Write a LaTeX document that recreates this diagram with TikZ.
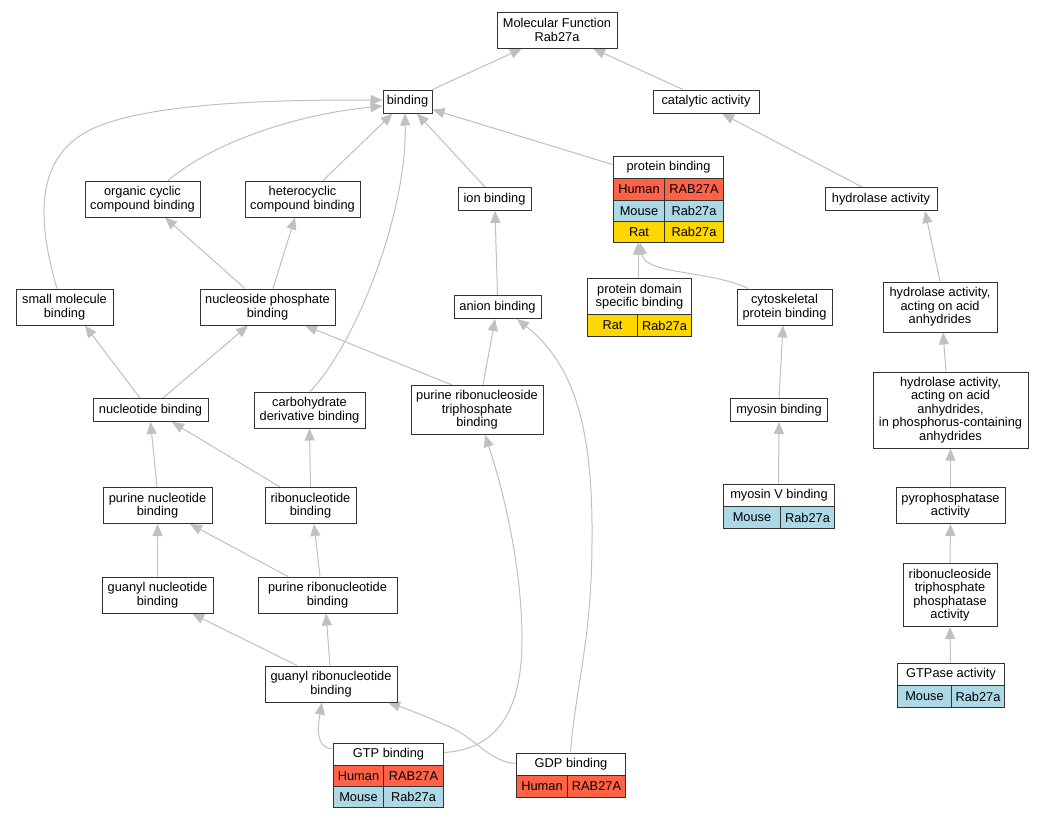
\documentclass[tikz,border=0pt]{standalone}
\usepackage{fontspec}
\setmainfont{Liberation Sans}
\usetikzlibrary{arrows.meta,backgrounds}
\definecolor{edgegray}{RGB}{192,192,192}
\definecolor{human}{RGB}{255,99,71}
\definecolor{mouse}{RGB}{173,216,230}
\definecolor{rat}{RGB}{255,215,0}
\newcommand\gofont{\fontsize{12.8}{13.4}\selectfont}
\tikzset{
  box/.style={draw=black!80, line width=1pt, fill=white, align=center, inner sep=0pt, font=\gofont},
  tbl/.style={draw=black!80, line width=1pt, fill=white, inner sep=0pt},
  cell/.style={draw=black!80, line width=1pt, fill=white, inner sep=0pt, anchor=north west, align=center, font=\gofont},
  edge/.style={draw=edgegray, line width=1pt, -{Triangle[length=12pt,width=10pt]}},
}
\begin{document}
\begin{tikzpicture}[x=1pt,y=-1pt]
\useasboundingbox (0,0) rectangle (1044,819);
% plain nodes
\node[box, minimum width=120pt, minimum height=36pt] (mf) at (557,30) {Molecular Function\\Rab27a};
\node[box, minimum width=49pt, minimum height=23pt] (bind) at (407.5,101.5) {binding};
\node[box, minimum width=106pt, minimum height=23pt] (cat) at (706,101.5) {catalytic activity};
\node[box, minimum width=115pt, minimum height=36pt] (oc) at (142.5,199) {organic cyclic\\compound binding};
\node[box, minimum width=115pt, minimum height=36pt] (het) at (302.5,199) {heterocyclic\\compound binding};
\node[box, minimum width=73pt, minimum height=23pt] (ion) at (494.5,199) {ion binding};
\node[box, minimum width=112pt, minimum height=23pt] (hyd) at (881,199) {hydrolase activity};
\node[box, minimum width=97pt, minimum height=36pt] (sm) at (64.5,307) {small molecule\\binding};
\node[box, minimum width=135pt, minimum height=36pt] (nps) at (267.5,307) {nucleoside phosphate\\binding};
\node[box, minimum width=87pt, minimum height=23pt] (anion) at (497.5,307) {anion binding};
\node[box, minimum width=95pt, minimum height=36pt] (cyto) at (784.5,307) {cytoskeletal\\protein binding};
\node[box, minimum width=114pt, minimum height=50pt] (haa) at (940,307) {hydrolase activity,\\acting on acid\\anhydrides};
\node[box, minimum width=115pt, minimum height=23pt] (nb) at (150.5,410) {nucleotide binding};
\node[box, minimum width=111pt, minimum height=36pt] (cdb) at (309.5,410) {carbohydrate\\derivative binding};
\node[box, minimum width=132pt, minimum height=49pt] (prtb) at (477,410) {purine ribonucleoside\\triphosphate\\binding};
\node[box, minimum width=97pt, minimum height=23pt] (myb) at (779,410) {myosin binding};
\node[box, minimum width=155pt, minimum height=76pt] (hpc) at (950.5,410) {hydrolase activity,\\acting on acid\\anhydrides,\\in phosphorus-containing\\anhydrides};
\node[box, minimum width=109pt, minimum height=36pt] (pnb) at (157.5,505.5) {purine nucleotide\\binding};
\node[box, minimum width=91pt, minimum height=36pt] (rnb) at (310.5,505.5) {ribonucleotide\\binding};
\node[box, minimum width=109pt, minimum height=36pt] (pyro) at (950.5,505.5) {pyrophosphatase\\activity};
\node[box, minimum width=111pt, minimum height=36pt] (gnb) at (157.5,595) {guanyl nucleotide\\binding};
\node[box, minimum width=139pt, minimum height=36pt] (prb) at (327.5,595) {purine ribonucleotide\\binding};
\node[box, minimum width=94pt, minimum height=63pt] (rtpa) at (950,595) {ribonucleoside\\triphosphate\\phosphatase\\activity};
\node[box, minimum width=132pt, minimum height=36pt] (grb) at (331,684) {guanyl ribonucleotide\\binding};
% protein binding table
\node[tbl, minimum width=110pt, minimum height=86pt] (pb) at (668,199) {};
\node[cell, minimum width=110pt, minimum height=22pt] (pbT) at (613,156) {protein binding};
\node[cell, fill=human, minimum width=51pt, minimum height=22pt] (pbH1) at (613,178) {Human};
\node[cell, fill=human, minimum width=59pt, minimum height=22pt] (pbH2) at (664,178) {RAB27A};
\node[cell, fill=mouse, minimum width=51pt, minimum height=21pt] (pbM1) at (613,200) {Mouse};
\node[cell, fill=mouse, minimum width=59pt, minimum height=21pt] (pbM2) at (664,200) {Rab27a};
\node[cell, fill=rat, minimum width=51pt, minimum height=21pt] (pbR1) at (613,221) {Rat};
\node[cell, fill=rat, minimum width=59pt, minimum height=21pt] (pbR2) at (664,221) {Rab27a};
% protein domain specific binding table
\node[tbl, minimum width=104pt, minimum height=58pt] (pds) at (639,307) {};
\node[cell, minimum width=104pt, minimum height=36pt] (pdsT) at (587,278) {protein domain\\specific binding};
\node[cell, fill=rat, minimum width=50pt, minimum height=22pt] (pdsR1) at (587,314) {Rat};
\node[cell, fill=rat, minimum width=54pt, minimum height=22pt] (pdsR2) at (637,314) {Rab27a};
% myosin V binding table
\node[tbl, minimum width=111pt, minimum height=44pt] (myv) at (778.5,506) {};
\node[cell, minimum width=111pt, minimum height=22pt] (myvT) at (723,484) {myosin V binding};
\node[cell, fill=mouse, minimum width=57pt, minimum height=22pt] (myvM1) at (723,506) {Mouse};
\node[cell, fill=mouse, minimum width=54pt, minimum height=22pt] (myvM2) at (780,506) {Rab27a};
% GTPase activity table
\node[tbl, minimum width=107pt, minimum height=44pt] (gtpase) at (950.5,685) {};
\node[cell, minimum width=107pt, minimum height=22pt] (gtpaseT) at (897,663) {GTPase activity};
\node[cell, fill=mouse, minimum width=54pt, minimum height=22pt] (gtpaseM1) at (897,685) {Mouse};
\node[cell, fill=mouse, minimum width=53pt, minimum height=22pt] (gtpaseM2) at (951,685) {Rab27a};
% GTP binding table
\node[tbl, minimum width=110pt, minimum height=64pt] (gtp) at (388,775) {};
\node[cell, minimum width=110pt, minimum height=22pt] (gtpT) at (333,743) {GTP binding};
\node[cell, fill=human, minimum width=50pt, minimum height=21pt] (gtpH1) at (333,765) {Human};
\node[cell, fill=human, minimum width=60pt, minimum height=21pt] (gtpH2) at (383,765) {RAB27A};
\node[cell, fill=mouse, minimum width=50pt, minimum height=21pt] (gtpM1) at (333,786) {Mouse};
\node[cell, fill=mouse, minimum width=60pt, minimum height=21pt] (gtpM2) at (383,786) {Rab27a};
% GDP binding table
\node[tbl, minimum width=109pt, minimum height=44pt] (gdp) at (570.5,775) {};
\node[cell, minimum width=109pt, minimum height=22pt] (gdpT) at (516,753) {GDP binding};
\node[cell, fill=human, minimum width=51pt, minimum height=22pt] (gdpH1) at (516,775) {Human};
\node[cell, fill=human, minimum width=58pt, minimum height=22pt] (gdpH2) at (567,775) {RAB27A};

\begin{pgfonlayer}{background}
\fill[white] (0,0) rectangle (1044,819);
\draw[edge] (bind.north east) -- ([xshift=-35pt]mf.south);
\draw[edge] ([xshift=-23pt]cat.north) -- ([xshift=36pt]mf.south);
\draw[edge] ([xshift=25.5pt]oc.north) .. controls (210,145) and (290,115) .. ([yshift=-4.5pt]bind.west);
\draw[edge] ([xshift=20.5pt]het.north) -- ([xshift=-15pt]bind.south);
\draw[edge] ([xshift=-7.5pt]sm.north) .. controls (40,230) and (30,160) .. (90,130) .. controls (150,100) and (300,100) .. ([yshift=1.5pt]bind.west);
\draw[edge] ([xshift=-22.5pt]nps.north) -- ([xshift=22.5pt]oc.south);
\draw[edge] ([xshift=5.5pt]nps.north) -- ([xshift=-7.5pt]het.south);
\draw[edge] ([xshift=0.5pt]cdb.north) .. controls (355,345) and (407,215) .. ([xshift=-2.5pt]bind.south);
\draw[edge] ([xshift=-9.5pt]ion.north) -- ([xshift=9.5pt]bind.south);
\draw[edge] ([yshift=-9pt]pb.north west) -- ([yshift=4pt]bind.south east);
\draw[edge] ([xshift=-19pt]hyd.north) -- ([xshift=16pt]cat.south);
\draw[edge] (anion.north) -- ([xshift=0.5pt]ion.south);
\draw[edge] ([xshift=-1pt]pds.north) -- ([xshift=-30pt]pb.south);
\draw[edge] ([xshift=-36.5pt]cyto.north) .. controls (710,270) and (645,275) .. ([xshift=-28pt]pb.south);
\draw[edge] (haa.north) -- ([xshift=44pt]hyd.south);
\draw[edge] ([xshift=-10.5pt]nb.north) -- ([xshift=20.5pt]sm.south);
\draw[edge] ([xshift=12.5pt]nb.north) -- ([xshift=-19.5pt]nps.south);
\draw[edge] ([xshift=-25pt]prtb.north) -- ([xshift=37.5pt]nps.south);
\draw[edge] ([xshift=6pt]prtb.north) -- ([xshift=-2.5pt]anion.south);
\draw[edge] (myb.north) -- ([xshift=-1.5pt]cyto.south);
\draw[edge] ([xshift=-4.5pt]hpc.north) -- ([xshift=3pt]haa.south);
\draw[edge] ([xshift=-0.5pt]pnb.north) -- (nb.south);
\draw[edge] ([xshift=-30.5pt]rnb.north) -- ([xshift=21.5pt]nb.south);
\draw[edge] (rnb.north) -- (cdb.south);
\draw[edge] (myv.north) -- (myb.south);
\draw[edge] (pyro.north) -- (hpc.south);
\draw[edge] (gnb.north) -- (pnb.south);
\draw[edge] ([xshift=-39.5pt]prb.north) -- ([xshift=32.5pt]pnb.south);
\draw[edge] ([xshift=-7.5pt]prb.north) -- ([xshift=3.5pt]rnb.south);
\draw[edge] (rtpa.north) -- (pyro.south);
\draw[edge] ([xshift=-34pt]grb.north) -- ([xshift=34.5pt]gnb.south);
\draw[edge] ([xshift=-1pt]grb.north) -- ([xshift=-1.5pt]prb.south);
\draw[edge] (gtpase.north) -- (rtpa.south);
\draw[edge] ([yshift=-6pt]gtp.north west) .. controls (315,749) and (318,725) .. ([xshift=-9pt]grb.south);
\draw[edge] ([yshift=-10pt]gtp.north east) .. controls (490,750) and (522,720) .. (522,640) .. controls (522,560) and (500,480) .. ([xshift=8pt]prtb.south);
\draw[edge] ([yshift=-11pt]gdp.north west) .. controls (490,762) and (475,738) .. (450,727) .. controls (430,718) and (410,710) .. ([xshift=57pt]grb.south);
\draw[edge] (gdp.north) .. controls (575,690) and (592,640) .. (592,540) .. controls (593,430) and (575,365) .. ([xshift=19.5pt]anion.south);
\end{pgfonlayer}
\end{tikzpicture}
\end{document}
